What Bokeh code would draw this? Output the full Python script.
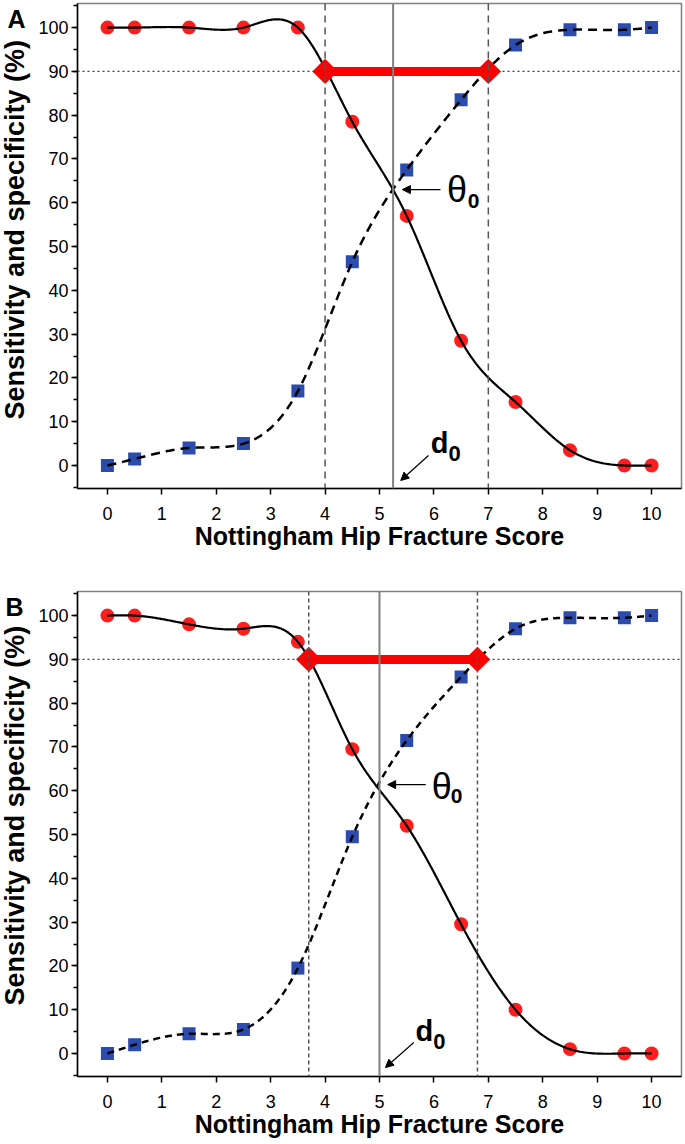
import numpy as np
from bokeh.plotting import figure
from bokeh.models import (Span, Label, Arrow, NormalHead, FixedTicker,
                          SingleIntervalTicker, Range1d)
from bokeh.layouts import column, row
from bokeh.embed import file_html
from bokeh.resources import INLINE

# ---------------- data ----------------
scores = [0, 0.5, 1.5, 2.5, 3.5, 4.5, 5.5, 6.5, 7.5, 8.5, 9.5, 10]
sens_a = [100, 100, 100, 100, 100, 78.5, 57, 28.5, 14.5, 3.5, 0, 0]
spec_a = [0, 1.5, 4, 5, 17, 46.5, 67.5, 83.5, 96, 99.5, 99.5, 100]
sens_b = [100, 100, 98, 97, 94, 69.5, 52, 29.5, 10, 1, 0, 0]
spec_b = [0, 2, 4.5, 5.5, 19.5, 49.5, 71.5, 86, 97, 99.5, 99.5, 100]
x_ticks = list(range(11))
target = 90
cut_a, lo_a, hi_a = 5.25, 4.0, 7.0
cut_b, lo_b, hi_b = 5.0, 3.7, 6.8

X_TITLE = "Nottingham Hip Fracture Score"
Y_TITLE = "Sensitivity and specificity (%)"
FONT = "Liberation Sans"

SIDE_W = 34
MAIN_W = 651
H_A = 570
H_B = 573


def natural_cubic(x, y, xs):
    x = np.asarray(x, float)
    y = np.asarray(y, float)
    n = len(x)
    h = np.diff(x)
    A = np.zeros((n, n))
    r = np.zeros(n)
    A[0, 0] = 1
    A[-1, -1] = 1
    for i in range(1, n - 1):
        A[i, i - 1] = h[i - 1]
        A[i, i] = 2 * (h[i - 1] + h[i])
        A[i, i + 1] = h[i]
        r[i] = 6 * ((y[i + 1] - y[i]) / h[i] - (y[i] - y[i - 1]) / h[i - 1])
    M = np.linalg.solve(A, r)
    idx = np.clip(np.searchsorted(x, xs) - 1, 0, n - 2)
    x0 = x[idx]
    x1 = x[idx + 1]
    hh = x1 - x0
    a = (x1 - xs) / hh
    b = (xs - x0) / hh
    return a * y[idx] + b * y[idx + 1] + ((a ** 3 - a) * M[idx] + (b ** 3 - b) * M[idx + 1]) * hh ** 2 / 6


def txt(x, y, text, size, bold=True, **kw):
    # y_offset compensates the renderer's baseline placement
    return Label(x=x, y=y, text=text, text_font=FONT,
                 text_font_size=f"{size}px",
                 text_font_style="bold" if bold else "normal",
                 text_baseline="alphabetic", text_align="left",
                 text_color="black", y_offset=round(0.33 * size), **kw)


def side(letter, height, letter_x, letter_y, title_y):
    s = figure(width=SIDE_W, height=height, output_backend="svg",
               toolbar_location=None, x_range=Range1d(0, SIDE_W),
               y_range=Range1d(0, height), x_axis_type=None, y_axis_type=None,
               min_border_left=0, min_border_right=0, min_border_top=0,
               min_border_bottom=0)
    s.grid.visible = False
    s.outline_line_color = None
    s.add_layout(txt(letter_x, letter_y, letter, 25))
    s.add_layout(Label(x=14, y=title_y, text=Y_TITLE, text_font=FONT,
                       text_font_size="27px", text_font_style="bold",
                       text_baseline="alphabetic", text_align="left",
                       angle=np.pi / 2, text_color="black"))
    return s


def panel(sens, spec, lo, hi, cut, ann, height, top, bottom, vdash, cdash):
    p = figure(width=MAIN_W, height=height, output_backend="svg",
               toolbar_location=None,
               x_range=Range1d(-0.55, 10.55), y_range=Range1d(-5.25, 105.5),
               min_border_left=43, min_border_right=4,
               min_border_top=top, min_border_bottom=bottom,
               x_axis_label=X_TITLE)
    p.grid.visible = False
    p.outline_line_color = "#808080"
    p.outline_line_width = 1.5
    p.xaxis.ticker = FixedTicker(ticks=x_ticks)
    p.yaxis.ticker = SingleIntervalTicker(interval=10, num_minor_ticks=2)
    for ax in (p.xaxis[0], p.yaxis[0]):
        ax.axis_line_width = 1.5
        ax.axis_line_color = "black"
        ax.major_tick_line_width = 1.5
        ax.minor_tick_line_width = 1.5
        ax.major_tick_out = 6
        ax.major_tick_in = 0
        ax.minor_tick_out = 4
        ax.minor_tick_in = 0
        ax.major_label_text_font = FONT
        ax.major_label_text_font_size = "18px"
        ax.major_label_text_color = "black"
        ax.axis_label_text_font = FONT
        ax.axis_label_text_font_size = "25px"
        ax.axis_label_text_font_style = "bold"
        ax.axis_label_text_color = "black"
    p.xaxis.minor_tick_line_color = None
    p.xaxis.major_label_standoff = 12
    p.xaxis.axis_label_standoff = -1
    p.yaxis.major_label_standoff = 3

    # reference lines
    p.add_layout(Span(location=target, dimension="width", line_color="#444444",
                      line_width=1.3, line_dash="2 3"))
    for loc in (lo, hi):
        p.add_layout(Span(location=loc, dimension="height", line_color="#555555",
                          line_width=1.5, line_dash=vdash))
    p.add_layout(Span(location=cut, dimension="height", line_color="#808080",
                      line_width=2))

    # markers
    p.scatter(scores, sens, marker="circle", size=14, fill_color="#FF1E1E",
              line_color=None)
    p.scatter(scores, spec, marker="square", size=13, fill_color="#2B4CAE",
              line_color=None)

    # smooth curves
    xs = np.linspace(scores[0], scores[-1], 500)
    p.line(xs, natural_cubic(scores, sens, xs), line_color="black",
           line_width=2.2)
    p.line(xs, natural_cubic(scores, spec, xs), line_color="black",
           line_width=2.5, line_dash=cdash)

    # red bar
    p.line([lo, hi], [target, target], line_color="#FF0000", line_width=9)
    p.scatter([lo, hi], [target, target], marker="square", size=18,
              angle=np.pi / 4, fill_color="#FF0000", line_color=None)

    # annotations
    (tx, ty, sx, sy, a1, a2, dx, dy, dsx, dsy, d1, d2) = ann
    p.add_layout(txt(tx, ty, "θ", 36, bold=False))
    p.add_layout(txt(sx, sy, "0", 21))
    p.add_layout(Arrow(end=NormalHead(size=8, fill_color="black",
                                      line_color="black"),
                       x_start=a1[0], y_start=a1[1], x_end=a2[0], y_end=a2[1],
                       line_width=1.2, line_color="black"))
    p.add_layout(txt(dx, dy, "d", 29))
    p.add_layout(txt(dsx, dsy, "0", 22))
    p.add_layout(Arrow(end=NormalHead(size=8, fill_color="black",
                                      line_color="black"),
                       x_start=d1[0], y_start=d1[1], x_end=d2[0], y_end=d2[1],
                       line_width=1.2, line_color="black"))
    return p


ann_a = (6.24, 60.3, 6.62, 58.9, (6.12, 63.0), (5.42, 63.0),
         5.94, 2.97, 6.27, 1.2, (5.90, 2.28), (5.39, -3.42))
ann_b = (5.96, 58.2, 6.31, 57.1, (5.85, 61.4), (5.15, 61.4),
         5.66, 2.97, 5.99, 1.2, (5.63, 2.5), (5.11, -3.2))

pa = panel(sens_a, spec_a, lo_a, hi_a, cut_a, ann_a, H_A, 3, 82, "7 5", "9 6")
pb = panel(sens_b, spec_b, lo_b, hi_b, cut_b, ann_b, H_B, 21, 67, "4 3", "7 5")
sa = side("A", H_A, 7, H_A - 28, 81)
sb = side("B", H_B, 5, H_B - 28, 84)

layout = column(row(sa, pa, spacing=0), row(sb, pb, spacing=0), spacing=0)
open("out.html", "w").write(file_html(layout, INLINE))
